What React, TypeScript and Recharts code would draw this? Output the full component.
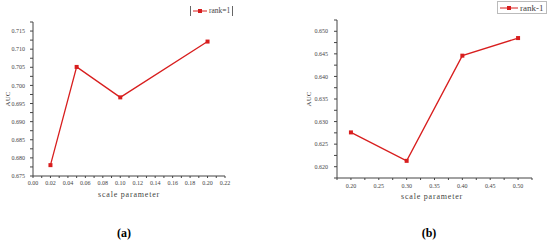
import { LineChart, Line, XAxis, YAxis, Legend } from "recharts";

// panel (a)
const scaleA = [0.02, 0.05, 0.1, 0.2];
const aucA = [0.678, 0.7051, 0.6967, 0.7121];
const xMajorA = [0, 0.02, 0.04, 0.06, 0.08, 0.1, 0.12, 0.14, 0.16, 0.18, 0.2, 0.22];
const xMinorA = [0.01, 0.03, 0.05, 0.07, 0.09, 0.11, 0.13, 0.15, 0.17, 0.19, 0.21];
const yMajorA = [0.675, 0.68, 0.685, 0.69, 0.695, 0.7, 0.705, 0.71, 0.715];
const yMinorA = [0.6775, 0.6825, 0.6875, 0.6925, 0.6975, 0.7025, 0.7075, 0.7125, 0.7175];

// panel (b)
const scaleB = [0.2, 0.3, 0.4, 0.5];
const aucB = [0.6276, 0.6213, 0.6446, 0.6485];
const xMajorB = [0.2, 0.25, 0.3, 0.35, 0.4, 0.45, 0.5];
const xMinorB = [0.175, 0.225, 0.275, 0.325, 0.375, 0.425, 0.475, 0.525];
const yMajorB = [0.62, 0.625, 0.63, 0.635, 0.64, 0.645, 0.65];
const yMinorB = [0.6175, 0.6225, 0.6275, 0.6325, 0.6375, 0.6425, 0.6475, 0.6525];

const RED = "#d81e1e";
const AXIS = "#444";
const FONT = "'Liberation Serif', 'DejaVu Serif', serif";

const sortNum = (a: number[], b: number[]) => [...a, ...b].sort((p, q) => p - q);
const fmt = (majors: number[], digits: number) => (v: number) =>
  majors.some((m) => Math.abs(m - v) < 1e-9) ? v.toFixed(digits) : "";

const tickStyle = { fontSize: 6, fill: "#444", fontFamily: FONT };

function LegendBox({ label, boxed, size, lineLen }: { label: string; boxed: boolean; size: number; lineLen: number }) {
  return (
    <div
      style={{
        display: "flex",
        alignItems: "center",
        gap: 2,
        padding: "0 2px",
        height: size + 2,
        border: boxed ? "1px solid #bbb" : "none",
        borderLeft: boxed ? "1px solid #bbb" : "1px solid #666",
        borderRight: boxed ? "1px solid #bbb" : "1px solid #666",
        fontFamily: FONT,
        fontSize: size,
        color: "#444",
        background: "#fff",
        whiteSpace: "nowrap",
      }}
    >
      <svg width={lineLen} height={6}>
        <line x1={0} y1={3} x2={lineLen} y2={3} stroke={RED} strokeWidth={1} />
        <rect x={lineLen / 2 - 2} y={1} width={4} height={4} fill={RED} />
      </svg>
      <span>{label}</span>
    </div>
  );
}

function SquareDot(props: any) {
  const { cx, cy } = props;
  if (cx == null || cy == null) return null;
  return <rect x={cx - 2} y={cy - 2} width={4} height={4} fill={RED} />;
}

export default function App() {
  const dataA = scaleA.map((s, i) => ({ scale: s, auc: aucA[i] }));
  const dataB = scaleB.map((s, i) => ({ scale: s, auc: aucB[i] }));

  return (
    <div style={{ position: "fixed", left: 0, top: 0, width: 550, height: 243, background: "#fff", overflow: "hidden" }}>
      <div style={{ position: "absolute", left: 0, top: 0 }}>
        <LineChart width={275} height={243} data={dataA} margin={{ top: 22, left: 3, right: 50, bottom: 47 }}>
          <XAxis
            type="number"
            dataKey="scale"
            domain={[0, 0.22]}
            ticks={sortNum(xMajorA, xMinorA)}
            tickFormatter={fmt(xMajorA, 2)}
            interval={0}
            height={20}
            tickSize={2}
            tickMargin={3}
            stroke={AXIS}
            tick={tickStyle}
            allowDataOverflow
          />
          <YAxis
            type="number"
            domain={[0.675, 0.7175]}
            ticks={sortNum(yMajorA, yMinorA)}
            tickFormatter={fmt(yMajorA, 3)}
            interval={0}
            width={30}
            tickSize={3}
            tickMargin={5}
            stroke={AXIS}
            tick={tickStyle}
            allowDataOverflow
          />
          <Legend
            layout="horizontal"
            verticalAlign="middle"
            align="center"
            content={() => <LegendBox label="rank=1" boxed={false} size={7.5} lineLen={14} />}
            wrapperStyle={{ position: "absolute", left: 190, top: 6, width: "auto", height: "auto" }}
          />
          <Line
            type="linear"
            dataKey="auc"
            name="rank=1"
            stroke={RED}
            strokeWidth={1.3}
            dot={<SquareDot />}
            isAnimationActive={false}
          />
        </LineChart>
      </div>

      <div style={{ position: "absolute", left: 275, top: 0 }}>
        <LineChart width={275} height={243} data={dataB} margin={{ top: 20, left: 32, right: 18, bottom: 45 }}>
          <XAxis
            type="number"
            dataKey="scale"
            domain={[0.175, 0.525]}
            ticks={sortNum(xMajorB, xMinorB)}
            tickFormatter={fmt(xMajorB, 2)}
            interval={0}
            height={20}
            tickSize={2}
            tickMargin={4}
            stroke={AXIS}
            tick={tickStyle}
            allowDataOverflow
          />
          <YAxis
            type="number"
            domain={[0.6175, 0.6525]}
            ticks={sortNum(yMajorB, yMinorB)}
            tickFormatter={fmt(yMajorB, 3)}
            interval={0}
            width={30}
            tickSize={3}
            tickMargin={6}
            stroke={AXIS}
            tick={tickStyle}
            allowDataOverflow
          />
          <Legend
            layout="horizontal"
            verticalAlign="middle"
            align="center"
            content={() => <LegendBox label="rank-1" boxed={true} size={9} lineLen={18} />}
            wrapperStyle={{ position: "absolute", left: 222, top: 1, width: "auto", height: "auto" }}
          />
          <Line
            type="linear"
            dataKey="auc"
            name="rank-1"
            stroke={RED}
            strokeWidth={1.3}
            dot={<SquareDot />}
            isAnimationActive={false}
          />
        </LineChart>
      </div>

      {/* axis titles and panel captions */}
      <div style={{ position: "absolute", left: 1, top: 95, transform: "rotate(-90deg)", fontFamily: FONT, fontSize: 7, color: "#444" }}>AUC</div>
      <div style={{ position: "absolute", left: 302, top: 95, transform: "rotate(-90deg)", fontFamily: FONT, fontSize: 7, color: "#444" }}>AUC</div>
      <div style={{ position: "absolute", left: 94, top: 190, width: 70, textAlign: "center", fontFamily: FONT, fontSize: 8, letterSpacing: 0.8, color: "#444" }}>scale parameter</div>
      <div style={{ position: "absolute", left: 397, top: 192, width: 70, textAlign: "center", fontFamily: FONT, fontSize: 8, letterSpacing: 0.8, color: "#444" }}>scale parameter</div>
      <div style={{ position: "absolute", left: 104, top: 226, width: 40, textAlign: "center", fontFamily: FONT, fontSize: 12, fontWeight: "bold", color: "#000" }}>
        (a)
      </div>
      <div style={{ position: "absolute", left: 409, top: 226, width: 40, textAlign: "center", fontFamily: FONT, fontSize: 12, fontWeight: "bold", color: "#000" }}>
        (b)
      </div>
    </div>
  );
}
